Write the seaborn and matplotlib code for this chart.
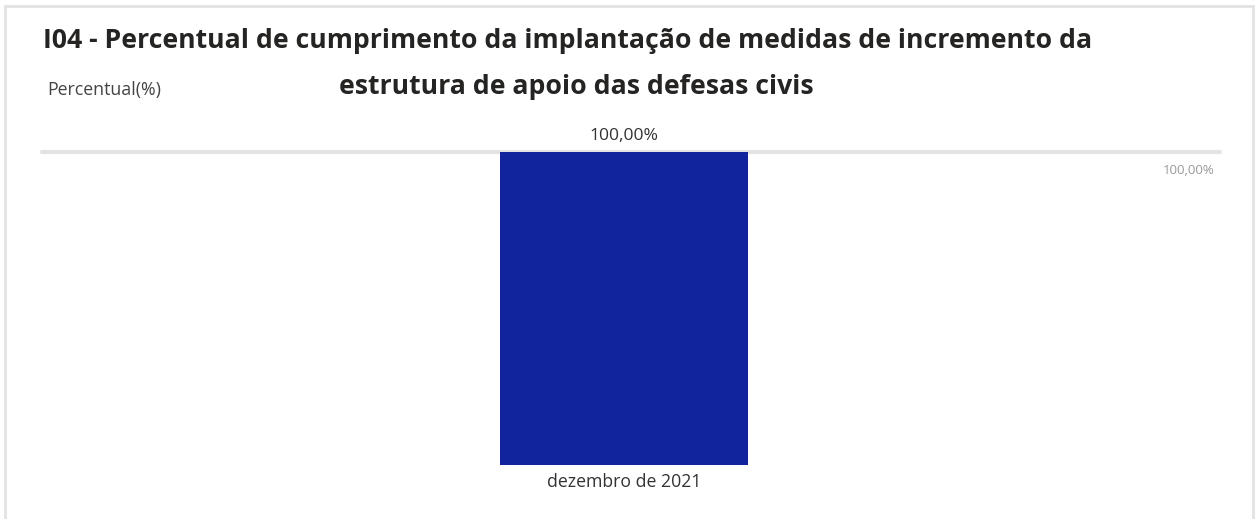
import matplotlib
matplotlib.use("Agg")
import matplotlib.pyplot as plt
import seaborn as sns
import pandas as pd
from matplotlib.patches import Rectangle

months = ["dezembro de 2021"]
percent = [100.0]
value_labels = ["100,00%"]

df = pd.DataFrame({"mes": months, "percentual": percent})

sns.set_theme(style="white")
plt.rcParams["font.family"] = ["Open Sans", "DejaVu Sans"]

W, H = 1258, 519
fig = plt.figure(figsize=(W / 100, H / 100), dpi=100)

# axes placed in pixel units
left, right, top, bottom = 42, 1220, 152, 465
ax = fig.add_axes([left / W, 1 - bottom / H, (right - left) / W, (bottom - top) / H])

sns.barplot(data=df, x="mes", y="percentual", color="#12239E", width=248 / 1178,
            saturation=1, linewidth=0, ax=ax)
ax.set_xlim(-582 / 1178, 1 - 582 / 1178)
ax.set_ylim(0, 100)
ax.axhline(100, color="#e3e3e3", lw=3, zorder=0, clip_on=False)

for i, (v, lab) in enumerate(zip(percent, value_labels)):
    ax.text(i, v + 2.5, lab, ha="center", va="bottom", fontsize=12.6, color="#333333")

ax.text(0.995, 0.94, "100,00%", transform=ax.transAxes, ha="right", va="center",
        fontsize=9.5, color="#999999")

sns.despine(ax=ax, left=True, bottom=True, top=True, right=True)
ax.set_yticks([])
ax.set_xlabel("")
ax.set_ylabel("")
ax.tick_params(axis="x", length=0, pad=6, labelsize=12.7, labelcolor="#333333")

fig.text(568 / W, 1 - 41 / H, "I04 - Percentual de cumprimento da implantação de medidas de incremento da",
         ha="center", va="center", fontsize=19.2, fontweight="bold", color="#252423")
fig.text(576 / W, 1 - 87 / H, "estrutura de apoio das defesas civis",
         ha="center", va="center", fontsize=19.2, fontweight="bold", color="#252423")
fig.text(47 / W, 1 - 90 / H, "Percentual(%)", ha="left", va="center",
         fontsize=12.8, color="#444444")

fig.patches.append(Rectangle((5 / W, -0.05), 1248 / W, 1.05 - 6 / H, transform=fig.transFigure,
                             fill=False, edgecolor="#e2e2e2", lw=2))

fig.savefig("out.png", dpi=100)
